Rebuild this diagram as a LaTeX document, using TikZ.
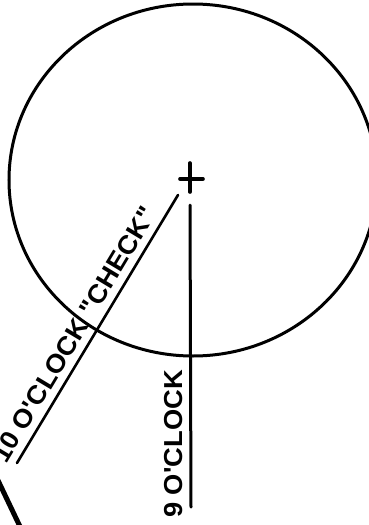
\documentclass[tikz,border=0pt]{standalone}
\usepackage{fontspec}
\newfontfamily\lblfont[FakeStretch=1.05]{Liberation Sans}
\begin{document}
\begin{tikzpicture}[x=1pt,y=-1pt,
  lbl/.style={inner sep=0pt,font=\lblfont\bfseries\fontsize{26}{26}\selectfont},
  ink/.style={line width=3pt,line cap=round}]
\useasboundingbox (0,0) rectangle (369,525);
\clip (0,0) rectangle (369,525);
% circle (hand-drawn, slightly wide)
\coordinate (ctr) at (193,180);
\draw[line width=3pt] (ctr) ellipse [x radius=184, y radius=176];
% centre cross
\coordinate (crt) at (190,163);
\coordinate (crb) at (190,192);
\coordinate (crl) at (180,179);
\coordinate (crr) at (203,179);
\draw[line width=3.6pt,line cap=round] (crt) -- (crb);
\draw[line width=3.6pt,line cap=round] (crl) -- (crr);
% 9 o'clock line
\coordinate (nt) at (190,205);
\coordinate (nb) at (191,507);
\draw[ink] (nt) -- (nb);
% 10 o'clock line
\coordinate (tt) at (178,195);
\coordinate (tb) at (17,463);
\draw[line width=2.6pt,line cap=round] (tt) -- (tb);
% thick line at lower left
\coordinate (ka) at (-6,472);
\coordinate (kb) at (24,535);
\draw[line width=5pt] (ka) -- (kb);
% labels
\node[lbl,anchor=base west,rotate=90] (nine) at (182,518) {9 O'CLOCK};
\node[lbl,anchor=base west,rotate=59] (ten) at (6,465) {10 O'CLOCK "CHECK"};
\end{tikzpicture}
\end{document}
